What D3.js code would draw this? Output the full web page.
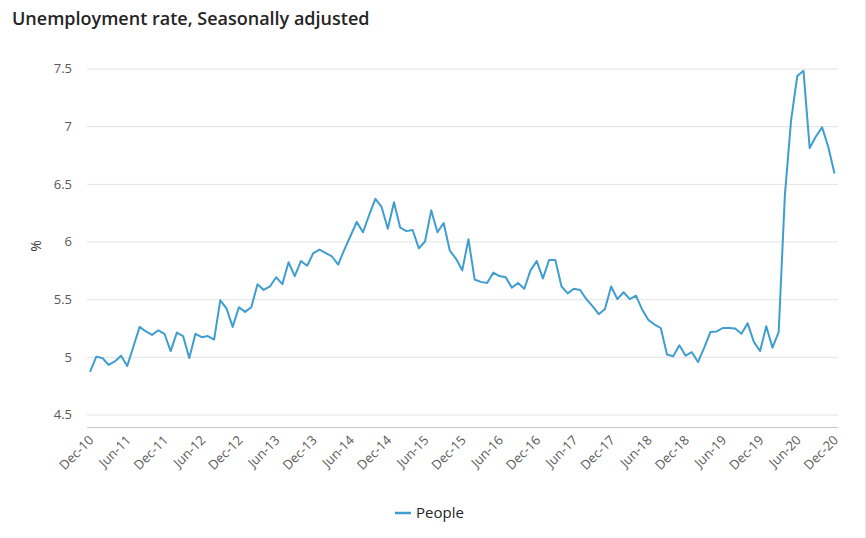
<!DOCTYPE html>
<html>
<head>
<meta charset="utf-8">
<script src="https://cdn.jsdelivr.net/npm/d3@7"></script>
<style>
  html, body { margin: 0; padding: 0; background: #fff; }
  svg { display: block; font-family: "Open Sans", "Noto Sans", sans-serif; }
</style>
</head>
<body>
<svg id="chart" width="866" height="538"></svg>
<script>
// ---- data ----
const startMonth = new Date(2010, 11, 1); // Dec-10
const endMonth = new Date(2021, 0, 1);    // exclusive (after Dec-20)
const seriesName = "People";
const values = [
  4.87, 5.00, 4.99, 4.93, 4.96, 5.01, 4.92, 5.09, 5.26, 5.22,
  5.19, 5.23, 5.20, 5.05, 5.21, 5.18, 4.99, 5.20, 5.17, 5.18,
  5.15, 5.49, 5.42, 5.26, 5.43, 5.39, 5.43, 5.63, 5.58, 5.61,
  5.69, 5.63, 5.82, 5.70, 5.83, 5.79, 5.90, 5.93, 5.90, 5.87,
  5.80, 5.93, 6.05, 6.17, 6.08, 6.23, 6.37, 6.30, 6.11, 6.34,
  6.12, 6.09, 6.10, 5.94, 6.00, 6.27, 6.08, 6.16, 5.92, 5.85,
  5.75, 6.02, 5.67, 5.65, 5.64, 5.73, 5.70, 5.69, 5.60, 5.64,
  5.59, 5.75, 5.83, 5.68, 5.84, 5.84, 5.61, 5.55, 5.59, 5.58,
  5.50, 5.44, 5.37, 5.415, 5.61, 5.50, 5.56, 5.50, 5.53, 5.41,
  5.32, 5.28, 5.25, 5.02, 5.005, 5.10, 5.01, 5.04, 4.955, 5.08,
  5.215, 5.22, 5.25, 5.25, 5.245, 5.20, 5.29, 5.13, 5.05, 5.265,
  5.08, 5.215, 6.40, 7.05, 7.435, 7.48, 6.81, 6.91, 6.99, 6.82,
  6.59
];
const tickLabels = [
  "Dec-10","Jun-11","Dec-11","Jun-12","Dec-12","Jun-13","Dec-13","Jun-14",
  "Dec-14","Jun-15","Dec-15","Jun-16","Dec-16","Jun-17","Dec-17","Jun-18",
  "Dec-18","Jun-19","Dec-19","Jun-20","Dec-20"
];
const yTicks = [4.5, 5, 5.5, 6, 6.5, 7, 7.5];
const yTickLabels = ["4.5", "5", "5.5", "6", "6.5", "7", "7.5"];

const fmt = d3.timeFormat("%b-%y");
const categories = d3.timeMonth.range(startMonth, endMonth).map(fmt);
const data = categories.map((c, i) => ({ cat: c, v: values[i] }));

// ---- layout ----
const svg = d3.select("#chart");
const lineColor = "#3f9dd0";
const gridLeft = 87, gridRight = 838, axisY = 427;

const x = d3.scalePoint().domain(categories).range([90, 834.5]);
const y = d3.scaleLinear().domain([4.5, 7.5]).range([414.5, 68.5]);

// title
svg.append("text")
  .attr("x", 12).attr("y", 25)
  .attr("font-size", 18).attr("font-weight", 600)
  .attr("fill", "#252525")
  .text("Unemployment rate, Seasonally adjusted");

// gridlines
const yAxis = d3.axisLeft(y).tickValues(yTicks)
  .tickFormat((d, i) => yTickLabels[i])
  .tickSize(-(gridRight - gridLeft)).tickPadding(15);
const gy = svg.append("g").attr("transform", `translate(${gridLeft},0)`).call(yAxis);
gy.select(".domain").remove();
gy.selectAll(".tick line").attr("stroke", "#e3e3e3").attr("stroke-width", 1);
gy.selectAll(".tick text").attr("font-size", 13).attr("fill", "#595959")
  .attr("font-family", "'Open Sans', sans-serif");

// x axis
const xAxis = d3.axisBottom(x).tickValues(tickLabels).tickSize(0).tickPadding(0);
const gx = svg.append("g").attr("transform", `translate(0,${axisY})`).call(xAxis);
gx.select(".domain").attr("d", `M${gridLeft},0.5H${gridRight}`).attr("stroke", "#c8c8c8");
gx.selectAll(".tick text")
  .attr("font-size", 13).attr("fill", "#595959")
  .attr("font-family", "'Open Sans', sans-serif")
  .attr("text-anchor", "end")
  .attr("dy", null).attr("y", null)
  .attr("transform", "translate(4,14) rotate(-45)");

// y label
svg.append("text")
  .attr("transform", "translate(41,246) rotate(-90)")
  .attr("text-anchor", "middle")
  .attr("font-size", 14).attr("fill", "#333")
  .text("%");

// line
svg.append("path")
  .datum(data)
  .attr("fill", "none")
  .attr("stroke", lineColor)
  .attr("stroke-width", 2)
  .attr("stroke-linejoin", "round")
  .attr("d", d3.line().x(d => x(d.cat)).y(d => y(d.v)));

// legend
const lg = svg.append("g");
lg.append("line").attr("x1", 395).attr("x2", 411).attr("y1", 513).attr("y2", 513)
  .attr("stroke", lineColor).attr("stroke-width", 2.5);
lg.append("text").attr("x", 416).attr("y", 518)
  .attr("font-size", 15).attr("fill", "#252525")
  .text(seriesName);

// right border
svg.append("line").attr("x1", 865.5).attr("x2", 865.5).attr("y1", 0).attr("y2", 538)
  .attr("stroke", "#e6e6e6");
</script>
</body>
</html>
